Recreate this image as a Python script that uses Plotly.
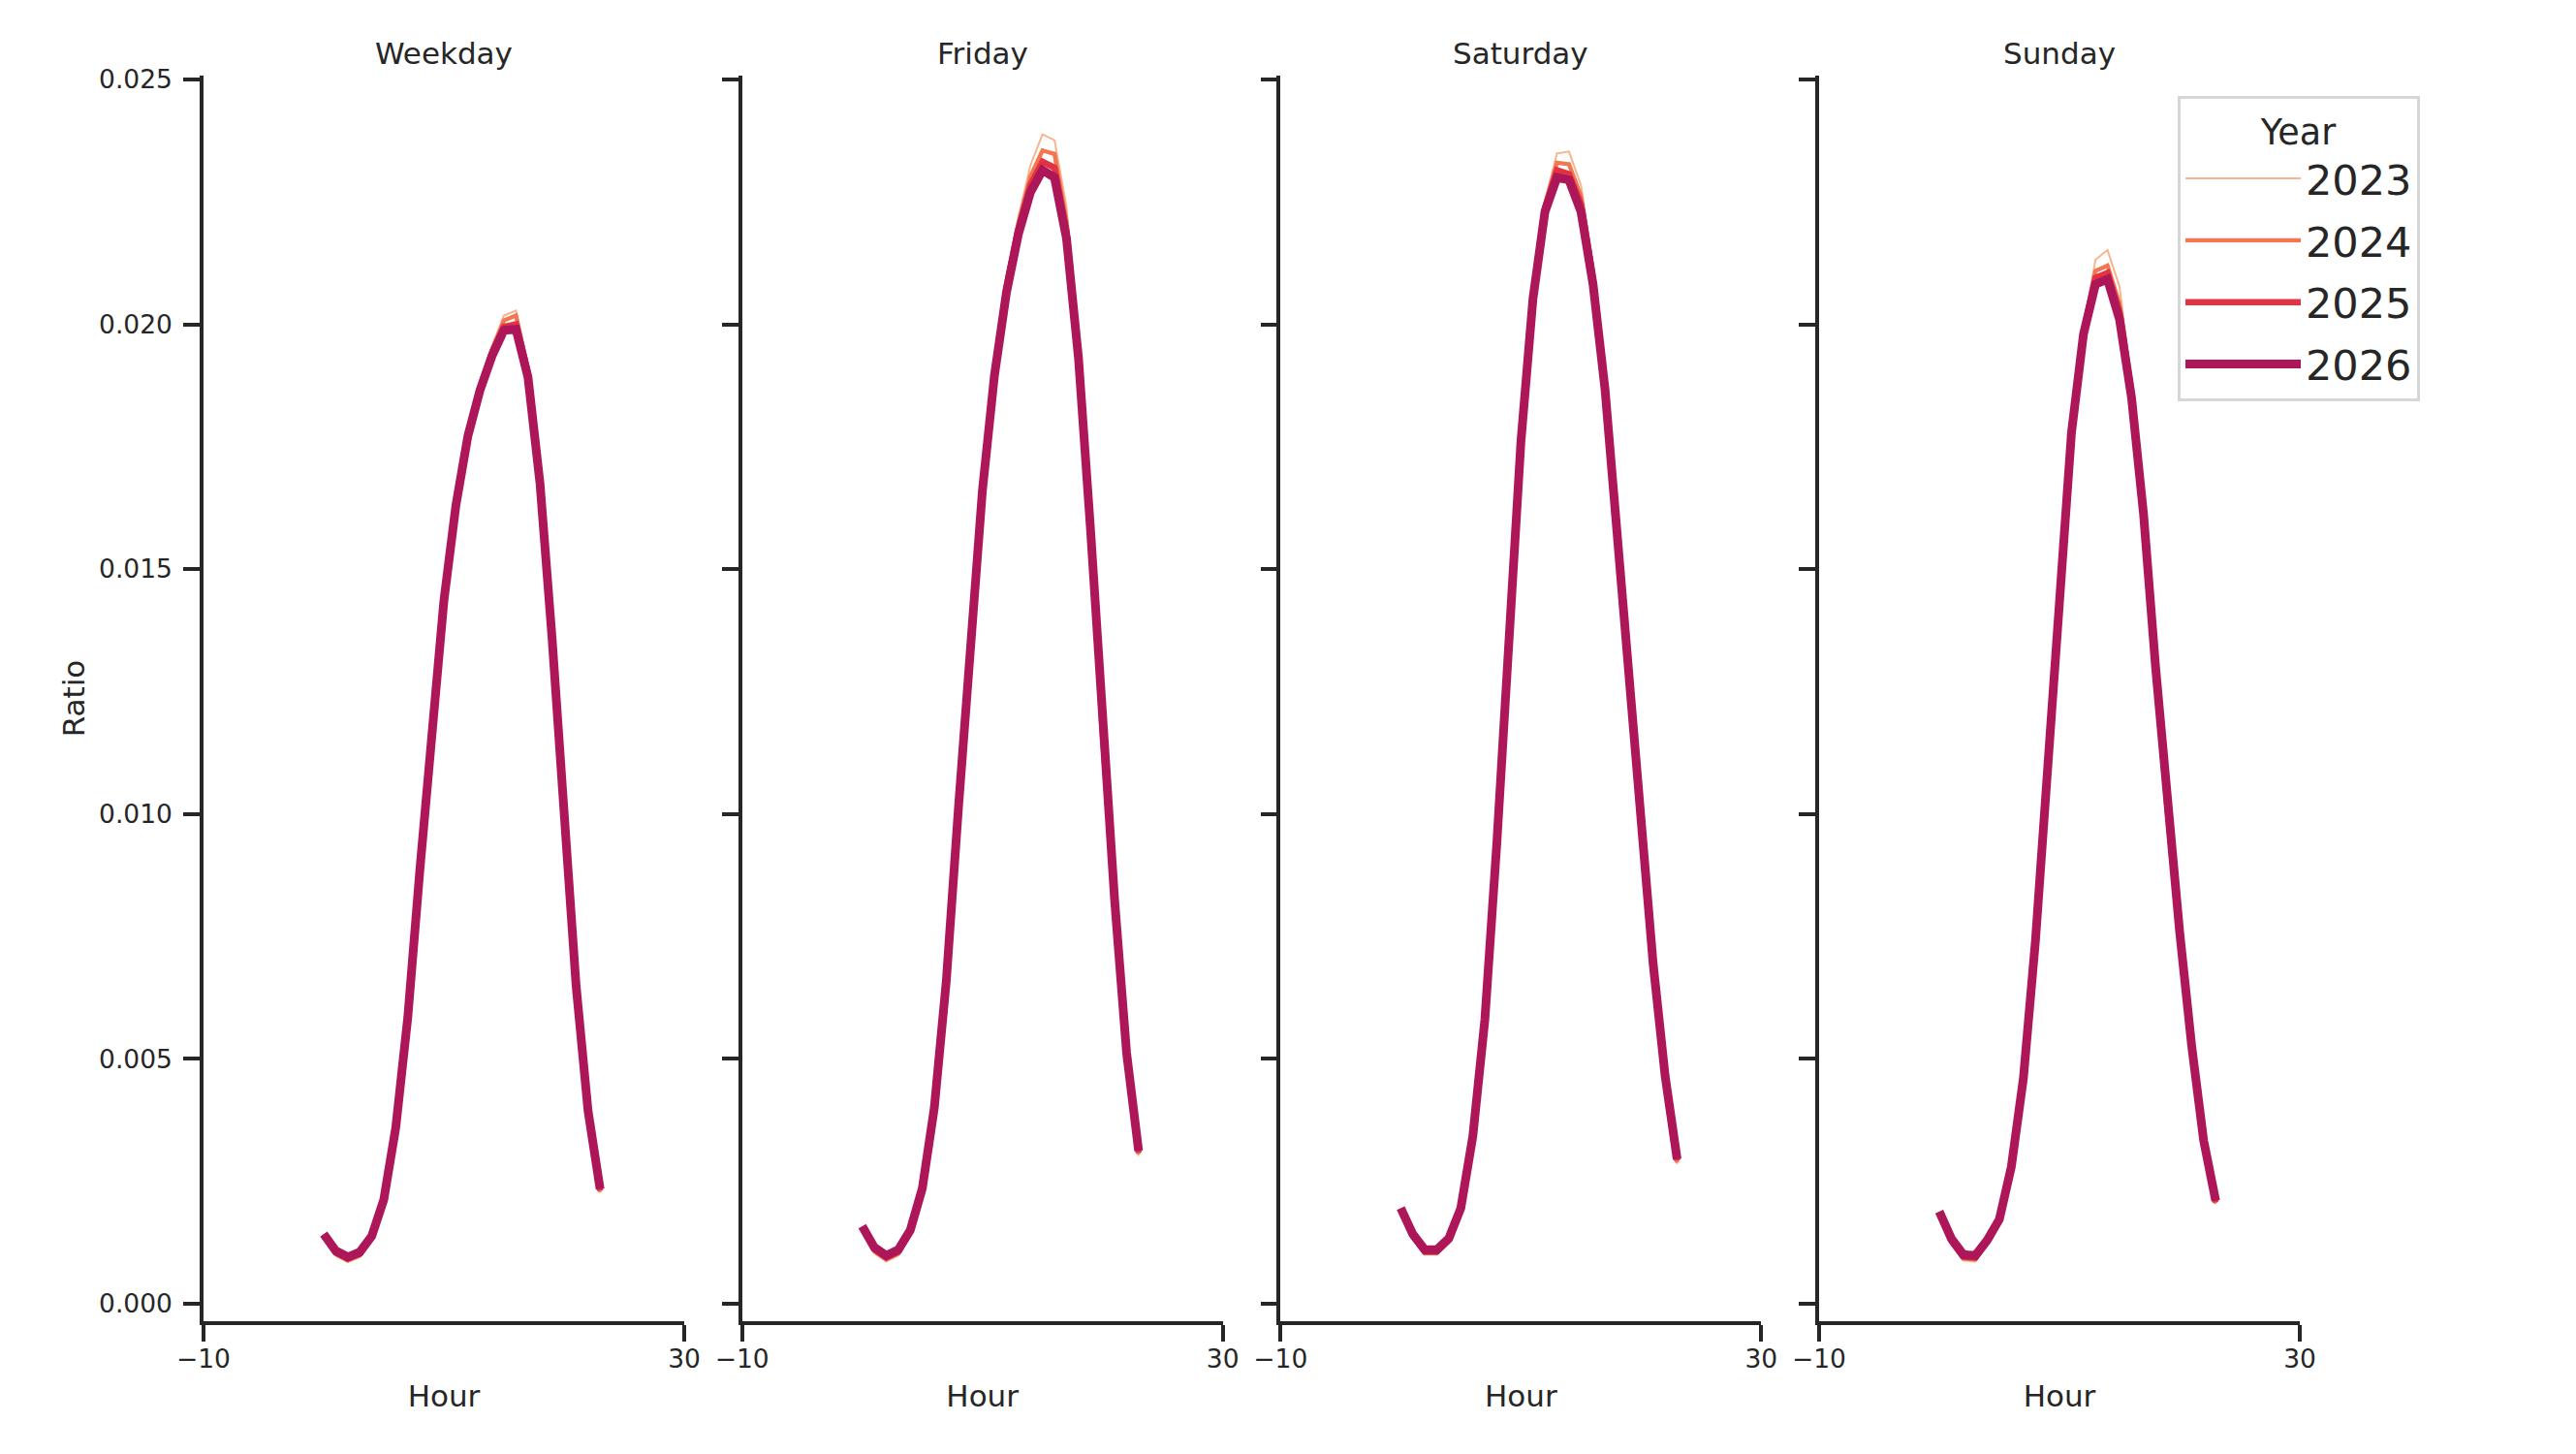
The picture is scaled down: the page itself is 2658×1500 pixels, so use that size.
import plotly.graph_objects as go

HOURS = list(range(24))
DAYS = ["Weekday", "Friday", "Saturday", "Sunday"]
YEARS = ["2023", "2024", "2025", "2026"]

WEEKDAY_2023 = [0.00139, 0.00098, 0.00085, 0.00095, 0.00130, 0.00207, 0.00358, 0.00588, 0.00890, 0.01166, 0.01441, 0.01639,
                0.01784, 0.01880, 0.01955, 0.02018, 0.02028, 0.01915, 0.01692, 0.01368, 0.01012, 0.00644, 0.00386, 0.00226]
WEEKDAY_2024 = [0.00140, 0.00101, 0.00088, 0.00098, 0.00133, 0.00209, 0.00359, 0.00587, 0.00889, 0.01164, 0.01439, 0.01636,
                0.01780, 0.01875, 0.01948, 0.02008, 0.02018, 0.01908, 0.01686, 0.01365, 0.01011, 0.00646, 0.00388, 0.00228]
WEEKDAY_2025 = [0.00141, 0.00104, 0.00092, 0.00102, 0.00136, 0.00211, 0.00360, 0.00586, 0.00887, 0.01162, 0.01437, 0.01633,
                0.01776, 0.01870, 0.01942, 0.01995, 0.02000, 0.01900, 0.01680, 0.01362, 0.01010, 0.00648, 0.00390, 0.00231]
WEEKDAY_2026 = [0.00142, 0.00108, 0.00095, 0.00105, 0.00138, 0.00212, 0.00360, 0.00585, 0.00885, 0.01160, 0.01435, 0.01630,
                0.01772, 0.01865, 0.01935, 0.01988, 0.01990, 0.01892, 0.01675, 0.01360, 0.01010, 0.00650, 0.00393, 0.00234]

FRIDAY_2023 = [0.00152, 0.00103, 0.00086, 0.00098, 0.00141, 0.00229, 0.00398, 0.00666, 0.01022, 0.01345, 0.01678, 0.01918,
               0.02098, 0.02220, 0.02325, 0.02388, 0.02376, 0.02240, 0.01952, 0.01590, 0.01172, 0.00816, 0.00502, 0.00302]
FRIDAY_2024 = [0.00154, 0.00107, 0.00090, 0.00102, 0.00144, 0.00231, 0.00399, 0.00664, 0.01018, 0.01340, 0.01672, 0.01910,
               0.02086, 0.02207, 0.02302, 0.02355, 0.02348, 0.02210, 0.01945, 0.01586, 0.01171, 0.00819, 0.00505, 0.00305]
FRIDAY_2025 = [0.00156, 0.00111, 0.00094, 0.00106, 0.00147, 0.00233, 0.00400, 0.00662, 0.01014, 0.01335, 0.01666, 0.01902,
               0.02075, 0.02195, 0.02285, 0.02332, 0.02320, 0.02190, 0.01938, 0.01583, 0.01170, 0.00822, 0.00508, 0.00308]
FRIDAY_2026 = [0.00158, 0.00115, 0.00098, 0.00110, 0.00150, 0.00235, 0.00400, 0.00660, 0.01010, 0.01330, 0.01660, 0.01895,
               0.02065, 0.02185, 0.02270, 0.02315, 0.02300, 0.02175, 0.01930, 0.01580, 0.01170, 0.00825, 0.00512, 0.00312]

SATURDAY_2023 = [0.00192, 0.00133, 0.00100, 0.00100, 0.00124, 0.00189, 0.00339, 0.00583, 0.00951, 0.01365, 0.01778, 0.02076,
                 0.02252, 0.02349, 0.02353, 0.02284, 0.02120, 0.01885, 0.01586, 0.01262, 0.00967, 0.00689, 0.00456, 0.00285]
SATURDAY_2024 = [0.00193, 0.00136, 0.00103, 0.00103, 0.00127, 0.00191, 0.00340, 0.00582, 0.00948, 0.01360, 0.01772, 0.02068,
                 0.02245, 0.02330, 0.02327, 0.02262, 0.02105, 0.01878, 0.01584, 0.01261, 0.00968, 0.00691, 0.00459, 0.00288]
SATURDAY_2025 = [0.00194, 0.00139, 0.00106, 0.00106, 0.00130, 0.00193, 0.00341, 0.00581, 0.00945, 0.01355, 0.01766, 0.02060,
                 0.02238, 0.02315, 0.02307, 0.02245, 0.02092, 0.01872, 0.01582, 0.01260, 0.00969, 0.00693, 0.00462, 0.00292]
SATURDAY_2026 = [0.00195, 0.00142, 0.00110, 0.00110, 0.00133, 0.00195, 0.00342, 0.00580, 0.00942, 0.01350, 0.01760, 0.02052,
                 0.02230, 0.02300, 0.02295, 0.02230, 0.02082, 0.01867, 0.01580, 0.01260, 0.00970, 0.00695, 0.00465, 0.00295]

SUNDAY_2023 = [0.00185, 0.00121, 0.00088, 0.00086, 0.00121, 0.00166, 0.00277, 0.00463, 0.00749, 0.01105, 0.01478, 0.01796,
               0.01995, 0.02132, 0.02152, 0.02077, 0.01880, 0.01625, 0.01303, 0.01007, 0.00754, 0.00518, 0.00324, 0.00203]
SUNDAY_2024 = [0.00186, 0.00125, 0.00092, 0.00090, 0.00124, 0.00168, 0.00278, 0.00462, 0.00746, 0.01100, 0.01472, 0.01790,
               0.01990, 0.02109, 0.02120, 0.02042, 0.01868, 0.01620, 0.01302, 0.01008, 0.00756, 0.00521, 0.00327, 0.00205]
SUNDAY_2025 = [0.00187, 0.00129, 0.00096, 0.00094, 0.00127, 0.00170, 0.00279, 0.00461, 0.00743, 0.01095, 0.01466, 0.01784,
               0.01985, 0.02095, 0.02105, 0.02025, 0.01858, 0.01616, 0.01301, 0.01009, 0.00758, 0.00524, 0.00330, 0.00207]
SUNDAY_2026 = [0.00188, 0.00133, 0.00100, 0.00098, 0.00130, 0.00172, 0.00280, 0.00460, 0.00740, 0.01090, 0.01460, 0.01778,
               0.01980, 0.02082, 0.02092, 0.02010, 0.01850, 0.01612, 0.01300, 0.01010, 0.00760, 0.00527, 0.00333, 0.00210]

SERIES = {
    "Weekday": [WEEKDAY_2023, WEEKDAY_2024, WEEKDAY_2025, WEEKDAY_2026],
    "Friday": [FRIDAY_2023, FRIDAY_2024, FRIDAY_2025, FRIDAY_2026],
    "Saturday": [SATURDAY_2023, SATURDAY_2024, SATURDAY_2025, SATURDAY_2026],
    "Sunday": [SUNDAY_2023, SUNDAY_2024, SUNDAY_2025, SUNDAY_2026],
}

X_TICKS = [-10, 30]
X_TICK_TEXT = ["\u221210", "30"]
Y_TICKS = [0.0, 0.005, 0.010, 0.015, 0.020, 0.025]

COLORS = ["#f6b48f", "#f37651", "#e13342", "#ad1759"]
WIDTHS = [2, 4.3, 6.5, 9]

INK = "#262626"
FONT = "DejaVu Sans"

# pixel geometry
W, H = 2658, 1500
PL, PR = 210, 2373     # plot area left/right
PT, PB = 78, 1363      # plot area top/bottom
PW, PH = PR - PL, PB - PT
PANEL_W = 496
STEP = (PW - PANEL_W) / 3


def px_x(p):
    return (p - PL) / PW


def px_y(p):
    return (PB - p) / PH


fig = go.Figure()

for i, day in enumerate(DAYS):
    xa = "x" if i == 0 else f"x{i + 1}"
    ya = "y" if i == 0 else f"y{i + 1}"
    for j, year in enumerate(YEARS):
        fig.add_trace(go.Scatter(
            x=HOURS, y=SERIES[day][j], mode="lines", name=year,
            legendgroup=year, showlegend=(i == 0),
            line=dict(color=COLORS[j], width=WIDTHS[j]),
            xaxis=xa, yaxis=ya,
        ))
    d0 = i * STEP / PW
    d1 = (i * STEP + PANEL_W) / PW
    xkey = "xaxis" if i == 0 else f"xaxis{i + 1}"
    ykey = "yaxis" if i == 0 else f"yaxis{i + 1}"
    fig.layout[xkey] = dict(
        domain=[d0, d1], anchor=ya, range=[-10, 30],
        tickmode="array", tickvals=X_TICKS, ticktext=X_TICK_TEXT,
        ticks="outside", ticklen=17, tickwidth=3.5, tickcolor=INK,
        showline=True, linewidth=3.5, linecolor=INK,
        showgrid=False, zeroline=False, automargin=False,
        tickfont=dict(size=26.5, color=INK, family=FONT), ticklabelstandoff=-5,
        title=dict(text="Hour", font=dict(size=31, color=INK, family=FONT), standoff=15),
    )
    fig.layout[ykey] = dict(
        domain=[0, 1], anchor=xa, range=[-0.00036, 0.02508],
        tickmode="array", tickvals=Y_TICKS, tickformat=".3f",
        ticks="outside", ticklen=17, tickwidth=3.5, tickcolor=INK,
        showline=True, linewidth=3.5, linecolor=INK,
        showgrid=False, zeroline=False, automargin=False,
        showticklabels=(i == 0),
        tickfont=dict(size=26.5, color=INK, family=FONT), ticklabelstandoff=6,
        title=dict(text="Ratio" if i == 0 else "", font=dict(size=31, color=INK, family=FONT), standoff=6),
    )
    fig.add_annotation(
        text=day, xref="paper", yref="paper",
        x=(d0 + d1) / 2, y=px_y(55), xanchor="center", yanchor="middle",
        showarrow=False, font=dict(size=31, color=INK, family=FONT),
    )

fig.update_layout(
    width=W, height=H,
    margin=dict(l=PL, r=W - PR, t=PT, b=H - PB, pad=0),
    paper_bgcolor="white", plot_bgcolor="white",
    font=dict(family=FONT, color=INK),
    showlegend=True,
    legend=dict(
        x=px_x(2247), y=px_y(99), xanchor="left", yanchor="top",
        bgcolor="white", bordercolor="#d6d6d6", borderwidth=3,
        font=dict(size=43, color=INK, family=FONT),
        title=dict(text="Year", side="top center", font=dict(size=36.5, color=INK, family=FONT)),
        itemwidth=119, traceorder="grouped", tracegroupgap=5,
    ),
)

fig.write_html("out.html", config={"displayModeBar": False},
               post_script="document.body.style.margin='0';")
